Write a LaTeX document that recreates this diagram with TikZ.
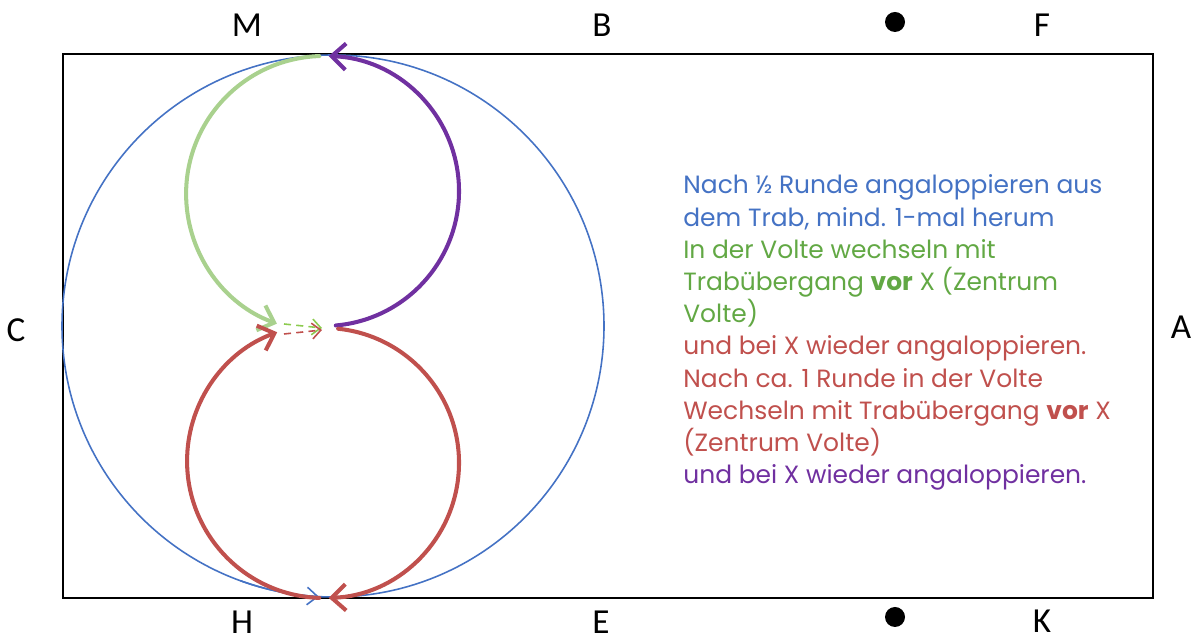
\documentclass[tikz,border=0pt]{standalone}
\usepackage{fontspec}
\setmainfont{Carlito}
\newfontfamily\notefont{Poppins}
\usepackage{xcolor}
\usetikzlibrary{arrows.meta}

\definecolor{volteblue}{HTML}{4472C4}
\definecolor{greenline}{HTML}{A9D18E}
\definecolor{greendash}{HTML}{8CCB4E}
\definecolor{greentext}{HTML}{62A844}
\definecolor{redline}{HTML}{C0504D}
\definecolor{purpleline}{HTML}{7030A0}

\begin{document}
\begin{tikzpicture}[x=0.02cm,y=0.02cm,
            letter/.style={font=\fontsize{20}{24}\selectfont, inner sep=0pt},
            marker/.style={shape=circle, inner sep=0pt, minimum size=0.4cm, fill=black},
            track/.style={line width=2.3pt, line cap=round},
            barb/.style={-{Straight Barb[length=8pt,width=15pt]}},
            hint/.style={dash pattern=on 4pt off 3pt, line width=0.9pt, -{Straight Barb[length=5pt,width=9pt]}},
            note/.style={anchor=base west, inner sep=0pt, font=\notefont\fontsize{14.2}{17}\selectfont}]
        \useasboundingbox (0,0) rectangle (1197,641);

        % arena and letters
        \draw[line width=0.6pt] (63,43) rectangle (1153,587);
        \node[letter] (M) at (247,616) {M};
        \node[letter] (B) at (602,616) {B};
        \node[letter] (F) at (1042,616) {F};
        \node[letter] (C) at (16,311) {C};
        \node[letter] (A) at (1181,314) {A};
        \node[letter] (H) at (242,19) {H};
        \node[letter] (E) at (601,19) {E};
        \node[letter] (K) at (1042,20) {K};
        \node[marker] (dottop) at (895,619) {};
        \node[marker] (dotbottom) at (895,24) {};

        % centres
        \coordinate (big) at (333,315);
        \coordinate (upper) at (324,450);
        \coordinate (lower) at (324,178);

        % big circle
        \draw[volteblue, line width=0.9pt] (big) circle[radius=271];
        \draw[volteblue, line width=0.9pt, -{Straight Barb[length=6pt,width=10pt]}]
            (big) ++(250:271) arc[start angle=250, end angle=267, radius=271];

        % upper volte
        \draw[track, purpleline, barb] (upper) ++(-85:135) arc[start angle=-85, end angle=88, radius=135];
        \draw[track, greenline, barb] (upper) ++(92:135) arc[start angle=92, end angle=250, radius=138] coordinate (gtip);

        % lower volte
        \draw[track, redline, barb] (lower) ++(84:135) arc[start angle=84, end angle=-88, radius=135];
        \draw[track, redline, barb] (lower) ++(-92:135) arc[start angle=-92, end angle=-250, radius=137] coordinate (rtip);

        % change of lead at X
        \coordinate (xg) at (322,313);
        \coordinate (xr) at (322,311);
        \draw[hint, greendash] (284,317) -- (xg);
        \draw[hint, redline] (284,307) -- (xr);

        % notes
        \foreach \i/\col/\txt in {0/volteblue/{Nach ½ Runde angaloppieren aus},
                                  1/volteblue/{dem Trab, mind. 1-mal herum},
                                  2/greentext/{In der Volte wechseln mit},
                                  3/greentext/{Trabübergang \textbf{vor} X (Zentrum},
                                  4/greentext/{Volte)},
                                  5/redline/{und bei X wieder angaloppieren.},
                                  6/redline/{Nach ca. 1 Runde in der Volte},
                                  7/redline/{Wechseln mit Trabübergang \textbf{vor} X},
                                  8/redline/{(Zentrum Volte)},
                                  9/purpleline/{und bei X wieder angaloppieren.}}
            \node[note, text=\col] (line\i) at (683,447-32.2*\i) {\txt};
\end{tikzpicture}
\end{document}
